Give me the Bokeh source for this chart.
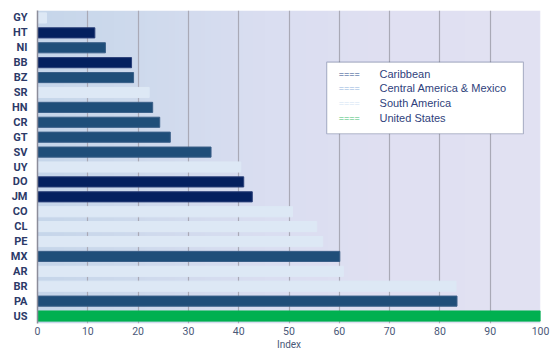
import numpy as np
from bokeh.plotting import figure
from bokeh.models import Range1d, FixedTicker, Label, BoxAnnotation, ColumnDataSource
from bokeh.embed import file_html
from bokeh.resources import INLINE

# Countries listed top to bottom, with their index value and region
countries = ["GY", "HT", "NI", "BB", "BZ", "SR", "HN", "CR", "GT", "SV", "UY",
             "DO", "JM", "CO", "CL", "PE", "MX", "AR", "BR", "PA", "US"]
index_values = [1.8, 11.4, 13.5, 18.7, 19.1, 22.2, 22.9, 24.3, 26.4, 34.5, 40.4,
                41.0, 42.7, 50.7, 55.5, 56.7, 60.1, 60.8, 83.2, 83.4, 100.0]
regions = ["SA", "CB", "CA", "CB", "CA", "SA", "CA", "CA", "CA", "CA", "SA",
           "CB", "CB", "SA", "SA", "SA", "CA", "SA", "SA", "CA", "US"]

region_names = ["Caribbean", "Central America & Mexico", "South America", "United States"]
region_keys = ["CB", "CA", "SA", "US"]
bar_fill = {"CB": "#04205f", "CA": "#1f4e79", "SA": "#dde8f5", "US": "#00b050"}
bar_line = {"CB": "#2a3f78", "CA": "#3a5f88", "SA": "#dde8f5", "US": "#00b050"}
legend_marker = {"CB": "#2a4a8a", "CA": "#8db3dc", "SA": "#d3e4f4", "US": "#3fbf6f"}

x_ticks = [0, 10, 20, 30, 40, 50, 60, 70, 80, 90, 100]

n = len(countries)
ypos = [n - 1 - i for i in range(n)]

src = ColumnDataSource(dict(
    y=ypos,
    right=index_values,
    fill=[bar_fill[r] for r in regions],
    line=[bar_line[r] for r in regions],
))

p = figure(width=550, height=353, output_backend="svg", toolbar_location=None,
           x_range=Range1d(0, 100), y_range=Range1d(-0.5, n - 0.5))
p.min_border = 0
p.min_border_left = 37
p.min_border_right = 10
p.min_border_top = 10
p.min_border_bottom = 30
p.outline_line_color = None
p.background_fill_color = "white"
p.border_fill_color = "white"

# Horizontal background gradient (blue on the left, lavender on the right)
stops_x = [0.0, 0.15, 0.45, 0.7, 1.0]
stops_c = [(0xc6, 0xd6, 0xea), (0xcc, 0xd9, 0xec), (0xda, 0xde, 0xf1),
           (0xe0, 0xe0, 0xf2), (0xe2, 0xe2, 0xf3)]
ncol = 250
t = np.linspace(0, 1, ncol)
img = np.zeros((1, ncol), dtype=np.uint32)
view = img.view(dtype=np.uint8).reshape((1, ncol, 4))
for k in range(3):
    view[0, :, k] = np.interp(t, stops_x, [c[k] for c in stops_c]).astype(np.uint8)
view[0, :, 3] = 255
p.image_rgba(image=[img], x=0, y=-0.5, dw=100, dh=n, level="image")

p.hbar(y="y", left=0, right="right", height=0.68, fill_color="fill",
       line_color="line", line_width=1, source=src)

# Grid: vertical lines only
p.ygrid.grid_line_color = None
p.xgrid.grid_line_color = "#a9a9b6"
p.xgrid.grid_line_width = 1.2
p.xgrid.ticker = FixedTicker(ticks=x_ticks)

# X axis
p.xaxis.ticker = FixedTicker(ticks=x_ticks)
p.xaxis.axis_line_color = None
p.xaxis.major_tick_line_color = None
p.xaxis.minor_tick_line_color = None
p.xaxis.major_tick_out = 0
p.xaxis.major_tick_in = 0
p.xaxis.major_label_standoff = 3
p.xaxis.major_label_text_font = "Roboto"
p.xaxis.major_label_text_font_size = "10.5px"
p.xaxis.major_label_text_color = "#4a5878"
p.xaxis.axis_label = "Index"
p.xaxis.axis_label_standoff = 1
p.xaxis.axis_label_text_font = "Roboto"
p.xaxis.axis_label_text_font_style = "normal"
p.xaxis.axis_label_text_font_size = "10px"
p.xaxis.axis_label_text_color = "#4a5878"

# Y axis with country codes
p.yaxis.ticker = FixedTicker(ticks=ypos)
p.yaxis.major_label_overrides = {y: c for y, c in zip(ypos, countries)}
p.yaxis.axis_line_color = "#8d8d9a"
p.yaxis.axis_line_width = 1.5
p.yaxis.major_tick_line_color = None
p.yaxis.minor_tick_line_color = None
p.yaxis.major_tick_out = 0
p.yaxis.major_tick_in = 0
p.yaxis.major_label_standoff = 10
p.yaxis.major_label_text_font = "Roboto"
p.yaxis.major_label_text_font_style = "bold"
p.yaxis.major_label_text_font_size = "11px"
p.yaxis.major_label_text_color = "#2c3a68"

# Legend box
p.add_layout(BoxAnnotation(left=57.5, right=96.6, top=17.03, bottom=12.23,
                           fill_color="white", fill_alpha=1.0,
                           line_color="#1f3060", line_width=1.2, level="annotation"))
legend_rows = [16.25, 15.31, 14.31, 13.27]
for key, name, yy in zip(region_keys, region_names, legend_rows):
    p.add_layout(Label(x=59.9, y=yy, text="====", text_baseline="middle",
                       text_font="Liberation Sans", text_font_size="9px",
                       text_color=legend_marker[key]))
    p.add_layout(Label(x=68.0, y=yy, text=name, text_baseline="middle",
                       text_font="Liberation Sans", text_font_size="11px",
                       text_color="#2f3f7c"))

open("out.html", "w").write(file_html(p, INLINE))
